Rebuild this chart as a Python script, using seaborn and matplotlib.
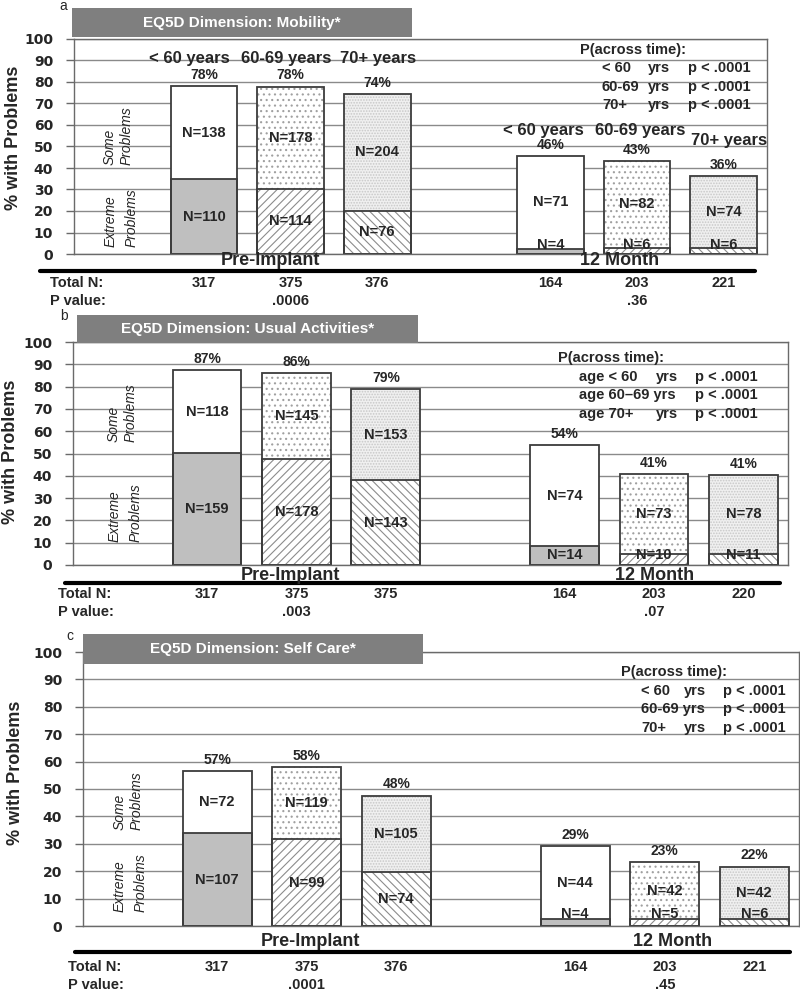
import matplotlib.pyplot as plt
import seaborn as sns
import pandas as pd
from matplotlib import transforms
from matplotlib.patches import Rectangle
from matplotlib.lines import Line2D

# Categories
times = ["Pre-Implant", "12 Month"]
ages = ["< 60", "60-69", "70+"]
age_headers = ["< 60 years", "60-69 years", "70+ years"]

# Panel a: Mobility (% with problems)
mob_extreme = [34.7, 30.4, 20.2, 2.4, 3.0, 2.7]
mob_total = [78.2, 77.9, 74.5, 45.7, 43.3, 36.2]
mob_pct = [78, 78, 74, 46, 43, 36]
mob_n_extreme = [110, 114, 76, 4, 6, 6]
mob_n_some = [138, 178, 204, 71, 82, 74]
mob_total_n = [317, 375, 376, 164, 203, 221]
mob_pvals = [".0006", ".36"]

# Panel b: Usual Activities
act_extreme = [50.2, 47.5, 38.1, 8.5, 4.9, 5.0]
act_total = [87.4, 86.1, 78.9, 53.7, 40.9, 40.5]
act_pct = [87, 86, 79, 54, 41, 41]
act_n_extreme = [159, 178, 143, 14, 10, 11]
act_n_some = [118, 145, 153, 74, 73, 78]
act_total_n = [317, 375, 375, 164, 203, 220]
act_pvals = [".003", ".07"]

# Panel c: Self Care
care_extreme = [33.8, 31.7, 19.7, 2.4, 2.5, 2.7]
care_total = [56.5, 58.1, 47.6, 29.3, 23.2, 21.7]
care_pct = [57, 58, 48, 29, 23, 22]
care_n_extreme = [107, 99, 74, 4, 5, 6]
care_n_some = [72, 119, 105, 44, 42, 42]
care_total_n = [317, 375, 376, 164, 203, 221]
care_pvals = [".0001", ".45"]

# P(across time) rows
mob_ptime = [["< 60", "yrs", "p < .0001"], ["60-69", "yrs", "p < .0001"], ["70+", "yrs", "p < .0001"]]
act_ptime = [["age < 60", "yrs", "p < .0001"], ["age 60\u201369 yrs", "", "p < .0001"], ["age 70+", "yrs", "p < .0001"]]
care_ptime = [["< 60", "yrs", "p < .0001"], ["60-69 yrs", "", "p < .0001"], ["70+", "yrs", "p < .0001"]]

W, H = 800, 991
sns.set_theme(style="white")
plt.rcParams["font.family"] = ["Liberation Sans", "DejaVu Sans"]
plt.rcParams["hatch.linewidth"] = 0.8

fig = plt.figure(figsize=(W / 100, H / 100), dpi=100)


def fx(x):
    return x / W


def fy(y):
    return 1 - y / H


slots = [f"{t} {a}" for t in times for a in ages]
order = slots[:3] + [""] + slots[3:]
xpos = [order.index(s) for s in slots]

# fills per age group
some_face = ["white", "white", "#f0f0f0"]
some_hatch = [None, "...", "......"]
some_hcol = ["white", "#a0a0a0", "#c8c8c8"]
ext_face = ["#bfbfbf", "white", "white"]
ext_hatch = [None, "////", "\\\\\\\\"]
ext_hcol = ["#bfbfbf", "#8c8c8c", "#8c8c8c"]
EDGE = "#3c3c3c"


def style_bars(container, faces, hatches, hcols):
    for p in container:
        slot = int(round(p.get_x() + p.get_width() / 2))
        k = xpos.index(slot) % 3
        p.set_facecolor(faces[k])
        p.set_edgecolor(hcols[k])
        p.set_linewidth(0)
        if hatches[k]:
            p.set_hatch(hatches[k])


def draw_panel(L, extreme, total, pct, n_ext, n_some, total_n, pvals, ptime_rows, headers=None):
    l, t, r, b = L["rect"]
    ax = fig.add_axes([fx(l), fy(b), (r - l) / W, (b - t) / H])
    df = pd.DataFrame({"slot": slots, "extreme": extreme, "total": total})

    sns.barplot(data=df, x="slot", y="total", order=order, ax=ax, width=0.77,
                errorbar=None, color="white")
    style_bars(ax.containers[-1], some_face, some_hatch, some_hcol)
    sns.barplot(data=df, x="slot", y="extreme", order=order, ax=ax, width=0.77,
                errorbar=None, color="white")
    style_bars(ax.containers[-1], ext_face, ext_hatch, ext_hcol)
    for col in ["total", "extreme"]:
        sns.barplot(data=df, x="slot", y=col, order=order, ax=ax, width=0.77,
                    errorbar=None, fill=False, color=EDGE, linewidth=1.3)

    ax.set_xlim(-1.5, 6.5)
    ax.set_ylim(0, 100)
    ax.set_yticks(range(0, 101, 10))
    ax.set_xticks([])
    ax.set_xlabel("")
    ax.set_ylabel("")
    ax.yaxis.grid(True, color="#8a8a8a", lw=1.0)
    ax.set_axisbelow(True)
    for s in ax.spines.values():
        s.set_visible(True)
        s.set_color("#6a6a6a")
        s.set_linewidth(1.0)
    ax.tick_params(axis="y", left=True, direction="out", length=6, width=1,
                   color="#6a6a6a", pad=9)
    for lab in ax.get_yticklabels():
        lab.set_fontweight("bold")
        lab.set_family("DejaVu Sans")
        lab.set_fontsize(10)

    # labels on bars
    for i in range(6):
        x = xpos[i]
        ax.annotate(f"{pct[i]}%", (x, total[i]), xytext=(0, 3), textcoords="offset points",
                    ha="center", va="bottom", fontsize=10, fontweight="bold")
        ax.text(x, (extreme[i] + total[i]) / 2, f"N={n_some[i]}", ha="center", va="center",
                fontsize=10.5, fontweight="bold")
        ey = extreme[i] / 2 if extreme[i] > 9 else 4.3
        ax.text(x, ey, f"N={n_ext[i]}", ha="center", va="center", fontsize=10.5, fontweight="bold")

    if headers:
        for i, (hx, hy) in enumerate(headers):
            fig.text(fx(hx), fy(hy), age_headers[i % 3], ha="center", va="center",
                     fontsize=12, fontweight="bold")

    # title box
    x0, y0, x1, y1 = L["box"]
    fig.add_artist(Rectangle((fx(x0), fy(y1)), (x1 - x0) / W, (y1 - y0) / H,
                             transform=fig.transFigure, facecolor="#7f7f7f",
                             edgecolor="none", zorder=5))
    fig.text(fx((x0 + x1) / 2), fy((y0 + y1) / 2), L["title"], color="white",
             ha="center", va="center", fontsize=11, fontweight="bold", zorder=6)
    fig.text(fx(L["letter"][0]), fy(L["letter"][1]), L["letter"][2], ha="center",
             va="center", fontsize=10)

    fig.text(fx(L["ylabel"][0]), fy(L["ylabel"][1]), "% with Problems", rotation=90,
             ha="center", va="center", fontsize=13, fontweight="bold")
    fig.text(fx(L["some"][0]), fy(L["some"][1]), "Some\nProblems", rotation=90,
             ha="center", va="bottom", multialignment="left", style="italic",
             fontsize=10, linespacing=1.2)
    fig.text(fx(L["ext"][0]), fy(L["ext"][1]), "Extreme\nProblems", rotation=90,
             ha="center", va="bottom", multialignment="left", style="italic",
             fontsize=10, linespacing=1.65)

    # P across time block
    hx, hy = L["phead"]
    fig.text(fx(hx), fy(hy), "P(across time):", ha="left", va="center",
             fontsize=10.5, fontweight="bold")
    for row, ry in zip(ptime_rows, L["prows"]):
        for txt, cx in zip(row, L["pcols"]):
            if txt:
                fig.text(fx(cx), fy(ry), txt, ha="left", va="center",
                         fontsize=10.5, fontweight="bold")

    # group labels, rule, table rows
    for name, (gx, gy) in zip(times, L["groups"]):
        fig.text(fx(gx), fy(gy), name, ha="center", va="center", fontsize=13, fontweight="bold")
    rx0, rx1, ry = L["rule"]
    fig.add_artist(Line2D([fx(rx0), fx(rx1)], [fy(ry), fy(ry)], transform=fig.transFigure,
                          color="black", lw=3))
    trans = transforms.blended_transform_factory(ax.transData, fig.transFigure)
    lx, ny, py = L["rows"]
    fig.text(fx(lx), fy(ny), "Total N:", ha="left", va="center", fontsize=10.5, fontweight="bold")
    fig.text(fx(lx), fy(py), "P value:", ha="left", va="center", fontsize=10.5, fontweight="bold")
    for i in range(6):
        ax.text(xpos[i], fy(ny), str(total_n[i]), transform=trans, ha="center",
                va="center", fontsize=10.5, fontweight="bold")
    for pv, slot in zip(pvals, [1, 5]):
        ax.text(slot, fy(py), pv, transform=trans, ha="center", va="center",
                fontsize=10.5, fontweight="bold")
    return ax


layout_a = dict(rect=(74, 39, 767, 254), box=(72, 8, 412, 37), title="EQ5D Dimension: Mobility*",
                letter=(63, 6, "a"), ylabel=(14, 138), some=(118, 165), ext=(121, 247),
                phead=(580, 50), prows=[68, 87, 105], pcols=[602, 648, 688],
                groups=[(270, 260), (620, 260)], rule=(40, 755, 271), rows=(50, 283, 301))
layout_b = dict(rect=(73, 342, 788, 565), box=(77, 315, 418, 343),
                title="EQ5D Dimension: Usual Activities*",
                letter=(64, 316, "b"), ylabel=(11, 452), some=(122, 442), ext=(125, 542),
                phead=(558, 358), prows=[377, 395, 414], pcols=[579, 656, 695],
                groups=[(290, 575), (655, 575)], rule=(65, 780, 583), rows=(58, 594, 612))
layout_c = dict(rect=(83, 652, 799, 926), box=(83, 634, 423, 664), title="EQ5D Dimension: Self Care*",
                letter=(70, 636, "c"), ylabel=(16, 773), some=(128, 830), ext=(130, 912),
                phead=(621, 672), prows=[691, 709, 728], pcols=[641, 684, 723],
                groups=[(310, 942), (673, 942)], rule=(75, 790, 952), rows=(68, 967, 985))

# age header positions (panel a only)
mob_header_xy = [(189, 58), (286, 58), (378, 58), (543, 130), (640, 130), (729, 140)]

draw_panel(layout_a, mob_extreme, mob_total, mob_pct, mob_n_extreme, mob_n_some,
           mob_total_n, mob_pvals, mob_ptime, headers=mob_header_xy)
draw_panel(layout_b, act_extreme, act_total, act_pct, act_n_extreme, act_n_some,
           act_total_n, act_pvals, act_ptime)
draw_panel(layout_c, care_extreme, care_total, care_pct, care_n_extreme, care_n_some,
           care_total_n, care_pvals, care_ptime)

fig.savefig("out.png", dpi=100)
